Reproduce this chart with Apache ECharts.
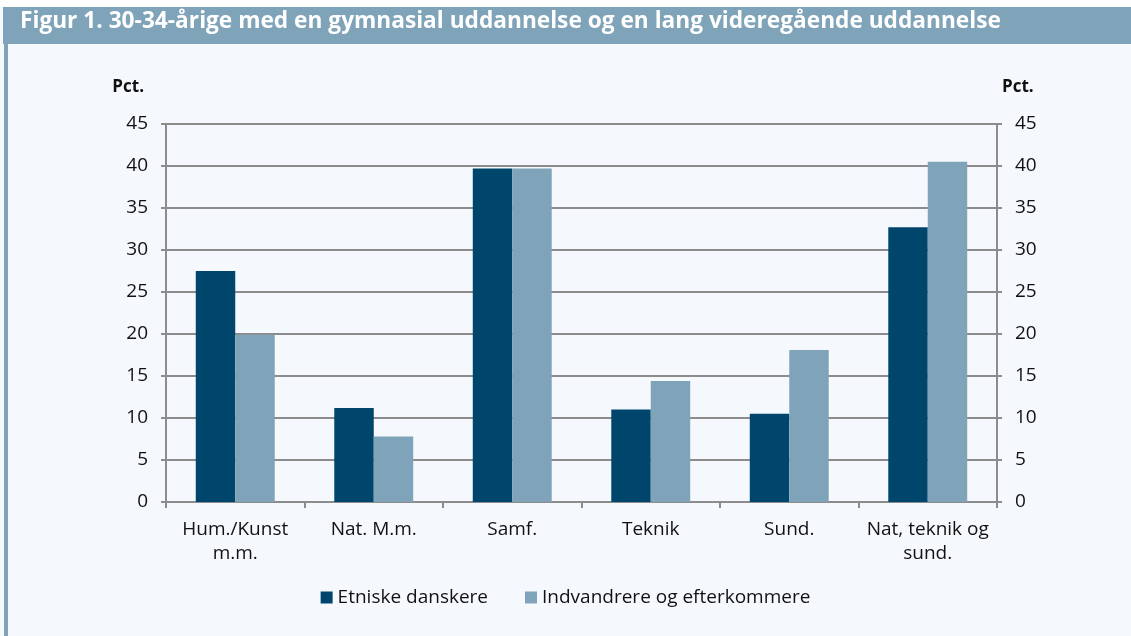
<!DOCTYPE html>
<html>
<head>
<meta charset="utf-8">
<script src="https://cdn.jsdelivr.net/npm/echarts@6/dist/echarts.min.js"></script>
<style>
  html, body { margin: 0; padding: 0; background: #ffffff; }
  #chart { width: 1131px; height: 636px; }
</style>
</head>
<body>
<div id="chart"></div>
<script>
var categories = ['Hum./Kunst\nm.m.', 'Nat. M.m.', 'Samf.', 'Teknik', 'Sund.', 'Nat, teknik og\nsund.'];
var etniske = [27.5, 11.2, 39.7, 11.0, 10.5, 32.7];
var indvandrere = [19.9, 7.8, 39.7, 14.4, 18.1, 40.5];
var seriesNames = ['Etniske danskere', 'Indvandrere og efterkommere'];
var titleText = 'Figur 1. 30-34-årige med en gymnasial uddannelse og en lang videregående uddannelse';

var dark = '#00456b';
var light = '#7fa3b8';
var gridColor = '#8c8c8c';
var font = 'Open Sans';

var chart = echarts.init(document.getElementById('chart'));

// both y axes share the same scale, only the left one draws grid lines
function yAxisDef(pos) {
	var left = pos === 'left';
	return {
		type: 'value',
		position: pos,
		min: 0,
		max: 45,
		interval: 5,
		name: 'Pct.',
		nameLocation: 'end',
		nameGap: 28,
		nameTextStyle: {
			fontFamily: font, fontSize: 17, fontWeight: 'bold', color: '#111',
			align: left ? 'right' : 'left',
			padding: left ? [0, 22, 0, 0] : [0, 0, 0, 5]
		},
		axisLine: { show: true, lineStyle: { color: gridColor, width: 2 } },
		axisTick: { show: true, length: 5, lineStyle: { color: gridColor, width: 2 } },
		axisLabel: { margin: 18, fontFamily: font, fontSize: 19, color: '#111' },
		splitLine: { show: left, lineStyle: { color: gridColor, width: 2 } }
	};
}

var option = {
	backgroundColor: '#f5f9fd',
	animation: false,
	graphic: [
		{ type: 'rect', shape: { x: 0, y: 0, width: 1131, height: 7 }, style: { fill: '#ffffff' } },
		{ type: 'rect', shape: { x: 3, y: 7, width: 1128, height: 37 }, style: { fill: light } },
		{ type: 'rect', shape: { x: 4, y: 44, width: 4, height: 592 }, style: { fill: light } },
		{ type: 'text', left: 20, top: 10, style: { text: titleText, fill: '#ffffff', font: 'bold 22.7px "Open Sans"' } }
	],
	color: [dark, light],
	legend: {
		top: 583,
		left: 'center',
		itemWidth: 12,
		itemHeight: 12,
		itemGap: 37,
		icon: 'rect',
		textStyle: { fontFamily: font, fontSize: 19, color: '#111' },
		data: seriesNames
	},
	grid: { left: 166, right: 134, top: 124, bottom: 134, containLabel: false },
	xAxis: {
		type: 'category',
		data: categories,
		axisLine: { lineStyle: { color: gridColor, width: 2 } },
		axisTick: { show: true, length: 6, interval: 0, lineStyle: { color: gridColor, width: 2 } },
		axisLabel: { interval: 0, margin: 16, fontFamily: font, fontSize: 19, color: '#111', lineHeight: 24 }
	},
	yAxis: [yAxisDef('left'), yAxisDef('right')],
	series: [
		{ name: seriesNames[0], type: 'bar', data: etniske, barGap: '0%', barCategoryGap: '43%', yAxisIndex: 0 },
		{ name: seriesNames[1], type: 'bar', data: indvandrere, yAxisIndex: 0 }
	]
};
chart.setOption(option);
</script>
</body>
</html>
